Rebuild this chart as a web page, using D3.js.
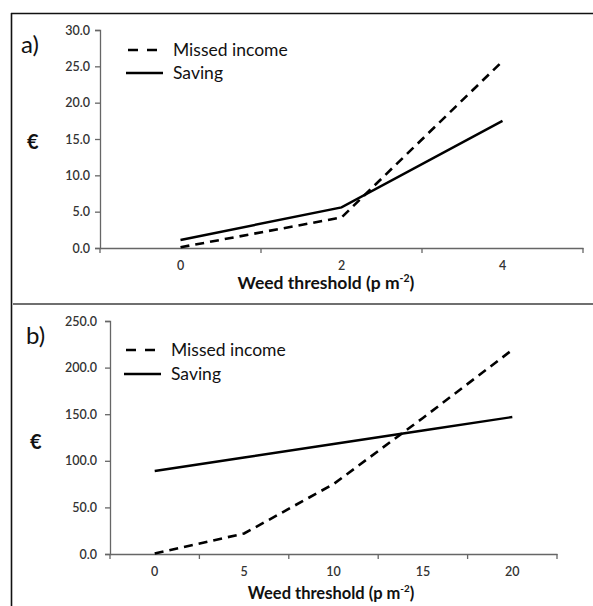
<!DOCTYPE html>
<html>
<head>
<meta charset="utf-8">
<script src="https://cdn.jsdelivr.net/npm/d3@7"></script>
<style>
  html, body { margin: 0; padding: 0; background: #fff; }
  svg { display: block; font-family: Lato, "Open Sans", sans-serif; }
</style>
</head>
<body>
<svg id="chart" width="593" height="606"></svg>
<script>
// Panel a: weed threshold 0–4 plants per m²
const thresholdsA = ["0", "2", "4"];
const missedIncomeA = [0.1, 4.2, 25.7];
const savingA = [1.1, 5.6, 17.5];
const yTicksA = [0, 5, 10, 15, 20, 25, 30];

// Panel b: weed threshold 0–20 plants per m²
const thresholdsB = ["0", "5", "10", "15", "20"];
const missedIncomeB = [0.5, 22, 75, 146, 219];
const savingB = [89, 103.5, 118, 132.5, 147];
const yTicksB = [0, 50, 100, 150, 200, 250];

const seriesNames = ["Missed income", "Saving"];

const svg = d3.select("#chart");

// frame: left and top rule plus the grey divider between the panels
svg.append("line").attr("x1", 11.5).attr("x2", 11.5).attr("y1", 13).attr("y2", 606)
  .attr("stroke", "#111").attr("stroke-width", 1.6);
svg.append("line").attr("x1", 11).attr("x2", 593).attr("y1", 13.5).attr("y2", 13.5)
  .attr("stroke", "#111").attr("stroke-width", 1.6);
svg.append("line").attr("x1", 13).attr("x2", 593).attr("y1", 304).attr("y2", 304)
  .attr("stroke", "#6f6f6f").attr("stroke-width", 2.2);

function panel(cfg) {
  const g = svg.append("g");
  const x = d3.scaleBand().domain(cfg.cats).range(cfg.xRange).paddingInner(0).paddingOuter(0);
  const y = d3.scaleLinear().domain([0, cfg.yMax]).range(cfg.yRange);
  const cx = c => x(c) + x.bandwidth() / 2;

  // y axis
  const yAxis = d3.axisLeft(y).tickValues(cfg.yTicks).tickFormat(d3.format(".1f"))
    .tickSize(5).tickPadding(cfg.yPad);
  const ya = g.append("g").attr("transform", `translate(${cfg.xRange[0]},0)`).call(yAxis);
  ya.select(".domain").attr("stroke", "#666").attr("stroke-width", 1.3);
  ya.selectAll(".tick line").attr("stroke", "#666").attr("stroke-width", 1.3);
  ya.selectAll("text").attr("font-size", 12.5).attr("fill", "#333")
    .attr("font-family", "Lato, sans-serif").attr("font-weight", 600);

  // x axis: labels at band centres, tick marks at band edges
  const xAxis = d3.axisBottom(x).tickSize(0).tickPadding(13);
  const xa = g.append("g").attr("transform", `translate(0,${cfg.yRange[0]})`).call(xAxis);
  xa.select(".domain").attr("stroke", "#666").attr("stroke-width", 1.3);
  xa.selectAll("text").attr("font-size", 12.5).attr("fill", "#333")
    .attr("font-family", "Lato, sans-serif").attr("font-weight", 600);
  const edges = cfg.cats.map(c => x(c)).concat([x.range()[1]]);
  xa.selectAll(".edge").data(edges).enter().append("line")
    .attr("x1", d => d).attr("x2", d => d).attr("y1", 0).attr("y2", 5)
    .attr("stroke", "#666").attr("stroke-width", 1.3);

  // axis title
  const t = g.append("text")
    .attr("x", cfg.titleX).attr("y", cfg.titleY)
    .attr("text-anchor", "middle").attr("font-weight", "bold")
    .attr("font-size", cfg.titleSize).attr("fill", "#111");
  t.append("tspan").text("Weed threshold (p m");
  t.append("tspan").text("-2").attr("font-size", cfg.titleSize * 0.6).attr("dy", -7);
  t.append("tspan").text(")").attr("dy", 7);

  // euro label and panel letter
  g.append("text").attr("x", cfg.euroX).attr("y", cfg.euroY).attr("font-size", 20)
    .attr("font-weight", "bold").attr("fill", "#111").text("€");
  g.append("text").attr("x", cfg.letterX).attr("y", cfg.letterY).attr("font-size", 24)
    .attr("fill", "#111").text(cfg.letter);

  // series lines
  const line = d3.line().x(d => cx(d.c)).y(d => y(d.v));
  const missed = cfg.cats.map((c, i) => ({ c, v: cfg.missed[i] }));
  const saving = cfg.cats.map((c, i) => ({ c, v: cfg.saving[i] }));
  g.append("path").datum(saving).attr("d", line).attr("fill", "none")
    .attr("stroke", "#000").attr("stroke-width", 2.4);
  g.append("path").datum(missed).attr("d", line).attr("fill", "none")
    .attr("stroke", "#000").attr("stroke-width", 2.6).attr("stroke-dasharray", "9,6");

  // legend
  const lg = g.append("g");
  lg.append("line").attr("x1", cfg.legX).attr("x2", cfg.legX + 31)
    .attr("y1", cfg.legY).attr("y2", cfg.legY)
    .attr("stroke", "#000").attr("stroke-width", 2.6).attr("stroke-dasharray", "10,9");
  lg.append("line").attr("x1", cfg.legX - 2).attr("x2", cfg.legX + 35)
    .attr("y1", cfg.legY + cfg.legGap).attr("y2", cfg.legY + cfg.legGap)
    .attr("stroke", "#000").attr("stroke-width", 2.4);
  seriesNames.forEach((n, i) => {
    lg.append("text").attr("x", cfg.legX + 45).attr("y", cfg.legY + i * cfg.legGap)
      .attr("dy", "0.35em").attr("font-size", 17.5).attr("fill", "#111").text(n);
  });
}

panel({
  cats: thresholdsA, missed: missedIncomeA, saving: savingA,
  yMax: 30, yTicks: yTicksA, xRange: [100, 583], yRange: [248, 30], yPad: 5,
  titleX: 326, titleY: 289, titleSize: 17.5,
  euroX: 27, euroY: 149, letterX: 21, letterY: 53, letter: "a)",
  legX: 128, legY: 50, legGap: 23
});

panel({
  cats: thresholdsB, missed: missedIncomeB, saving: savingB,
  yMax: 250, yTicks: yTicksB, xRange: [110, 557], yRange: [554, 321], yPad: 8,
  titleX: 331, titleY: 599, titleSize: 16.5,
  euroX: 30, euroY: 449, letterX: 26, letterY: 344, letter: "b)",
  legX: 126, legY: 350, legGap: 24
});
</script>
</body>
</html>
